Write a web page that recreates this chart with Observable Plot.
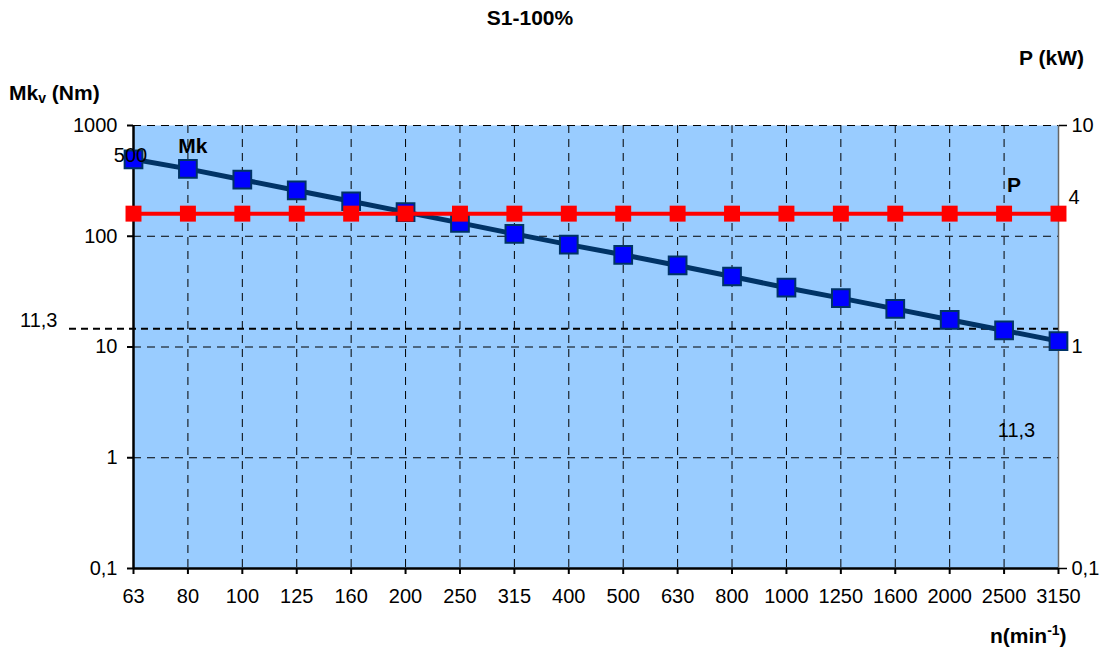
<!DOCTYPE html>
<html>
<head>
<meta charset="utf-8">
<script src="https://cdn.jsdelivr.net/npm/d3@7"></script>
<script src="https://cdn.jsdelivr.net/npm/@observablehq/plot@0.6"></script>
<style>
  html, body { margin: 0; padding: 0; background: #fff; }
  #wrap { position: relative; width: 1104px; height: 653px; font-family: "Liberation Sans", Arial, sans-serif; color: #000; }
  .lbl { position: absolute; font-size: 21px; line-height: 21px; font-weight: bold; white-space: nowrap; }
  .lbl sub { font-size: 14px; vertical-align: -3px; line-height: 0; }
  .lbl sup { font-size: 14px; vertical-align: 8px; line-height: 0; }
  #wrap svg { position: absolute; left: 0; top: 0; }
</style>
</head>
<body>
<div id="wrap">
  <div class="lbl" style="left:0;width:1060px;text-align:center;top:7px;">S1-100%</div>
  <div class="lbl" style="left:9px;top:82px;">Mk<sub>v</sub> (Nm)</div>
  <div class="lbl" style="left:1019px;top:47px;">P (kW)</div>
  <div class="lbl" style="left:990px;top:625px;">n(min<sup>-1</sup>)</div>
</div>
<script>
// ---- data ----
const categories = ["63","80","100","125","160","200","250","315","400","500","630","800","1000","1250","1600","2000","2500","3150"];
const mkValues = [495, 406, 324, 259, 207, 165, 132, 105, 84, 68, 54.5, 43.3, 34.3, 27.6, 22.1, 17.6, 14.1, 11.3];
const pValues  = [4, 4, 4, 4, 4, 4, 4, 4, 4, 4, 4, 4, 4, 4, 4, 4, 4, 4];
const leftTicks = [0.1, 1, 10, 100, 1000];
const leftTickLabels = ["0,1", "1", "10", "100", "1000"];
const rightTicksKW = [0.1, 1, 10];
const rightTickLabels = ["0,1", "1", "10"];
const refLineValue = 14.6;       // dashed reference line (labelled 11,3)
const refLineLabel = "11,3";

// right axis (P, 0.1..10 kW) shares the frame with left axis (0.1..1000 Nm)
const pToLeft = p => 10 * p * p;

const rows = categories.map((n, i) => ({n, mk: mkValues[i], p: pToLeft(pValues[i]), pkw: pValues[i]}));
const first = rows[0], last = rows[rows.length - 1];

const fmtLeft = d => leftTickLabels[leftTicks.indexOf(d)];
const rightTicksLeft = rightTicksKW.map(pToLeft);
const fmtRight = d => rightTickLabels[rightTicksLeft.findIndex(v => Math.abs(v - d) < 1e-9)];

const dash = "8,6";

const chart = Plot.plot({
  width: 1104,
  height: 653,
  marginLeft: 133,
  marginRight: 46,
  marginTop: 125,
  marginBottom: 85,
  style: {fontFamily: "'Liberation Sans', Arial, sans-serif", fontSize: "20px", background: "transparent", color: "#000", overflow: "visible"},
  x: {type: "point", domain: categories, padding: 0, round: false},
  y: {type: "log", domain: [0.1, 1000]},
  marks: [
    Plot.frame({fill: "#99CCFF", stroke: "none"}),
    Plot.ruleX(categories, {stroke: "#000", strokeWidth: 1, strokeDasharray: dash}),
    Plot.ruleY(leftTicks.slice(1), {stroke: "#000", strokeWidth: 1, strokeDasharray: dash}),
    Plot.ruleX([categories[categories.length - 1]], {stroke: "#666", strokeWidth: 1.5}),
    Plot.ruleX([categories[0]], {stroke: "#000", strokeWidth: 2.5}),
    Plot.ruleY([0.1], {stroke: "#000", strokeWidth: 2.5}),
    Plot.axisX({ticks: categories, tickSize: 6, tickPadding: 14, tickFormat: d => d, label: null, strokeWidth: 2}),
    Plot.axisY({anchor: "left", ticks: leftTicks, tickFormat: fmtLeft, tickSize: 6, tickPadding: 10, label: null, strokeWidth: 2}),
    Plot.axisY({anchor: "right", ticks: rightTicksLeft, tickFormat: fmtRight, tickSize: 8, tickPadding: 5, label: null, strokeWidth: 1.5}),
    // reference dashed line
    Plot.ruleY([refLineValue], {stroke: "#000", strokeWidth: 2, strokeDasharray: "7,5", insetLeft: -64}),
    Plot.text([refLineValue], {y: d => d, text: () => refLineLabel, frameAnchor: "left", textAnchor: "end", dx: -76, dy: -8, fontSize: 20, fill: "#000"}),
    // Mk series
    Plot.line(rows, {x: "n", y: "mk", stroke: "#003366", strokeWidth: 5}),
    Plot.dot(rows, {x: "n", y: "mk", symbol: "square", r: 10, fill: "#0000FF", stroke: "#003366", strokeWidth: 2}),
    // P series
    Plot.line(rows, {x: "n", y: "p", stroke: "#FF0000", strokeWidth: 4}),
    Plot.dot(rows, {x: "n", y: "p", symbol: "square", r: 9, fill: "#FF0000", stroke: "none"}),
    // data / series labels
    Plot.text([first], {x: "n", y: "mk", text: () => "500", dx: -3, dy: -4, fontSize: 20, fill: "#000"}),
    Plot.text([rows[1]], {x: "n", y: "mk", text: () => "Mk", dx: 5, dy: -23, fontSize: 21, fontWeight: "bold", fill: "#000"}),
    Plot.text([rows[16]], {x: "n", y: "p", text: () => "P", dx: 10, dy: -28, fontSize: 21, fontWeight: "bold", fill: "#000"}),
    Plot.text([last], {x: "n", y: "p", text: d => String(d.pkw), textAnchor: "start", dx: 10, dy: -16, fontSize: 20, fill: "#000"}),
    Plot.text([last], {x: "n", y: "mk", text: d => String(d.mk).replace(".", ","), dx: -42, dy: 89, fontSize: 20, fill: "#000"})
  ]
});
document.getElementById("wrap").prepend(chart);
</script>
</body>
</html>
